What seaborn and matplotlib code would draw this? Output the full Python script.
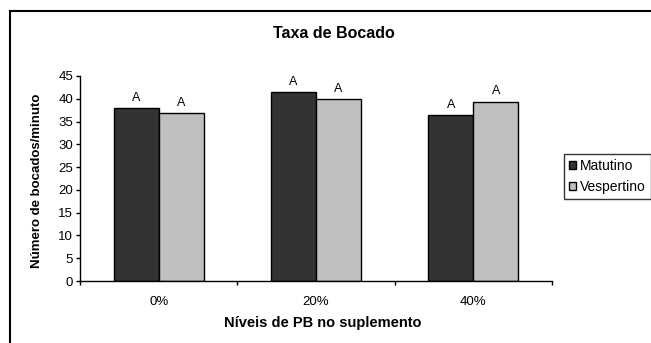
import matplotlib
matplotlib.use("Agg")
import matplotlib.pyplot as plt
from matplotlib.patches import Rectangle, Patch
import seaborn as sns
import pandas as pd

# Bite rate by crude-protein level and period of the day
niveis = ["0%", "20%", "40%"]
periodos = ["Matutino", "Vespertino"]
matutino = [38.0, 41.5, 36.4]
vespertino = [36.8, 39.9, 39.4]
letras_matutino = ["A", "A", "A"]
letras_vespertino = ["A", "A", "A"]
cores = {"Matutino": "#333333", "Vespertino": "#C0C0C0"}

df = pd.DataFrame({
    "nivel": niveis * 2,
    "periodo": ["Matutino"] * 3 + ["Vespertino"] * 3,
    "valor": matutino + vespertino,
    "letra": letras_matutino + letras_vespertino,
})

sns.set_theme(style="white")
plt.rcParams["font.family"] = ["Liberation Sans", "DejaVu Sans"]
plt.rcParams["text.color"] = "black"
plt.rcParams["xtick.color"] = "black"
plt.rcParams["ytick.color"] = "black"

fig = plt.figure(figsize=(6.51, 3.43), dpi=100)
ax = fig.add_axes([80 / 651, 62 / 343, 472 / 651, 205 / 343])

sns.barplot(data=df, x="nivel", y="valor", hue="periodo", order=niveis,
            hue_order=periodos, palette=cores, width=0.57, edgecolor="black",
            linewidth=1.0, errorbar=None, legend=False, ax=ax)

# significance letters above each bar
for container, periodo in zip(ax.containers, periodos):
    letras = df[df["periodo"] == periodo]["letra"].tolist()
    ax.bar_label(container, labels=letras, padding=3, fontsize=9,
                 color="black")

ax.set_ylim(0, 45)
ax.set_yticks(range(0, 46, 5))
ax.set_xlim(-0.5, 2.5)
ax.set_xticks([0, 1, 2])
ax.set_xticklabels(niveis)
ax.set_xticks([-0.5, 0.5, 1.5, 2.5], minor=True)
ax.tick_params(axis="x", which="major", length=0, pad=11, labelsize=9.5)
ax.tick_params(axis="x", which="minor", length=3, width=1, direction="out",
               bottom=True, color="black")
ax.tick_params(axis="y", length=3, width=1, direction="out", left=True,
               color="black", labelsize=9.5, pad=2)

for s in ["top", "right"]:
    ax.spines[s].set_visible(False)
for s in ["left", "bottom"]:
    ax.spines[s].set_color("black")
    ax.spines[s].set_linewidth(1.0)

ax.set_xlabel("")
ax.set_ylabel("")
fig.text(323 / 651, 1 - 323 / 343, "Níveis de PB no suplemento",
         ha="center", va="center", fontsize=10.5, fontweight="bold")
fig.text(37 / 651, 1 - 181 / 343, "Número de bocados/minuto", rotation=90,
         ha="center", va="center", fontsize=9.5, fontweight="bold")
fig.text(334 / 651, 1 - 34 / 343, "Taxa de Bocado", ha="center",
         va="center", fontsize=11.5, fontweight="bold")

handles = [Patch(facecolor=cores[p], edgecolor="black", linewidth=1.0, label=p)
           for p in periodos]
leg = fig.legend(handles=handles, loc="upper left",
                 bbox_to_anchor=(564 / 651, 1 - 154 / 343), fontsize=10,
                 frameon=True, fancybox=False, handlelength=0.5,
                 handleheight=0.5, handletextpad=0.3, borderpad=0.35,
                 labelspacing=0.5, borderaxespad=0)
leg.get_frame().set_edgecolor("black")
leg.get_frame().set_linewidth(1.0)

# outer chart border
fig.patches.append(Rectangle((10 / 651, -0.1), 1.0, 1 - 11 / 343 + 0.1,
                             transform=fig.transFigure, fill=False,
                             edgecolor="black", linewidth=1.5))

fig.savefig("out.png", dpi=100)
